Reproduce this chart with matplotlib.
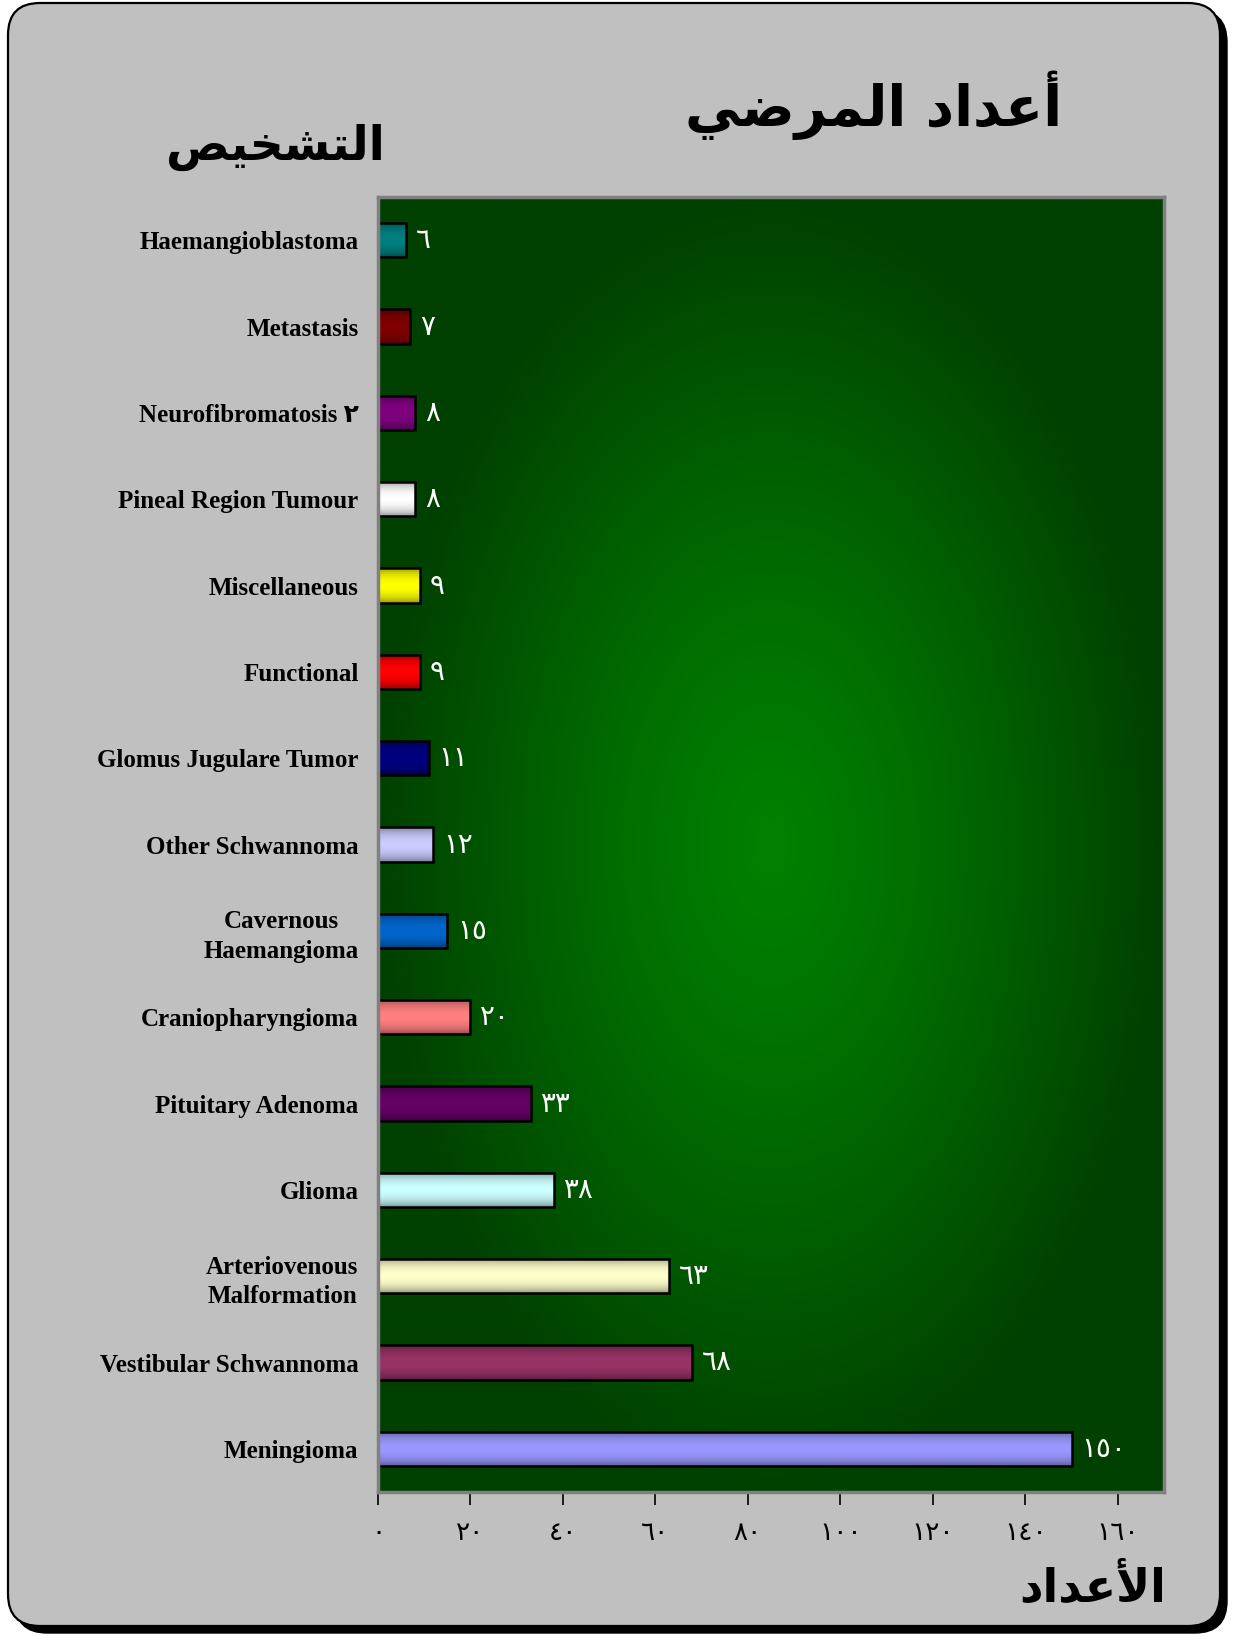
import numpy as np
import matplotlib
matplotlib.use("Agg")
import matplotlib.pyplot as plt
from matplotlib.patches import FancyBboxPatch
from matplotlib.colors import to_rgb

# ---------------- data ----------------
categories = ["Meningioma", "Vestibular Schwannoma", "Arteriovenous\nMalformation",
              "Glioma", "Pituitary Adenoma", "Craniopharyngioma",
              "Cavernous\nHaemangioma", "Other Schwannoma", "Glomus Jugulare Tumor",
              "Functional", "Miscellaneous", "Pineal Region Tumour",
              "Neurofibromatosis \u0662", "Metastasis", "Haemangioblastoma"]
values = [150, 68, 63, 38, 33, 20, 15, 12, 11, 9, 9, 8, 8, 7, 6]
bar_colors = ["#9999FF", "#993366", "#FFFFCC", "#CCFFFF", "#660066", "#FF8080",
              "#0066CC", "#CCCCFF", "#000080", "#FF0000", "#FFFF00", "#FFFFFF",
              "#800080", "#800000", "#008080"]
x_ticks = [0, 20, 40, 60, 80, 100, 120, 140, 160]

# Arabic texts (visual order, presentation forms)
title_main = "\uFEF2\uFEBF\uFEAE\uFEE4\uFEDF\uFE8D \uFEA9\uFE8D\uFEAA\uFECB\uFE83"   # أعداد المرضي
title_cat = "\uFEBA\uFEF4\uFEA8\uFEB8\uFE98\uFEDF\uFE8D"                          # التشخيص
title_x = "\uFEA9\uFE8D\uFEAA\uFECB\uFEF7\uFE8D"                                   # الأعداد

AR_DIGITS = "\u0660\u0661\u0662\u0663\u0664\u0665\u0666\u0667\u0668\u0669"
def ar(n):
    return "".join(AR_DIGITS[int(c)] for c in str(n))

W, H = 1234, 1636
fig = plt.figure(figsize=(W / 100, H / 100), dpi=100)
fig.patch.set_facecolor("white")

# ---------------- outer frame ----------------
bg = fig.add_axes([0, 0, 1, 1])
bg.set_xlim(0, W)
bg.set_ylim(H, 0)
bg.axis("off")
fx0, fy0, fx1, fy1 = 8, 3, 1220, 1626
bg.add_patch(FancyBboxPatch((fx0 + 7, fy0 + 7), fx1 - fx0, fy1 - fy0,
                            boxstyle="round,pad=0,rounding_size=32",
                            facecolor="black", edgecolor="black", lw=1))
bg.add_patch(FancyBboxPatch((fx0, fy0), fx1 - fx0, fy1 - fy0,
                            boxstyle="round,pad=0,rounding_size=32",
                            facecolor="#C0C0C0", edgecolor="black", lw=1.6))

# ---------------- plot area ----------------
L, R, T, B = 378, 1164, 197, 1492
ax = fig.add_axes([L / W, 1 - B / H, (R - L) / W, (B - T) / H])
ax.set_facecolor("#004000")

# radial green gradient
n = 400
gx, gy = np.meshgrid(np.linspace(0, 1, n), np.linspace(0, 1, n))
r = np.sqrt(((gx - 0.5) / 0.5) ** 2 + ((gy - 0.5) / 0.5) ** 2)
r = np.clip(r, 0, 1) ** 1.3
c_center = np.array([0, 128, 0]) / 255
c_edge = np.array([0, 64, 0]) / 255
img = c_center[None, None, :] * (1 - r[..., None]) + c_edge[None, None, :] * r[..., None]
ax.imshow(img, extent=(0, 1, 0, 1), transform=ax.transAxes, aspect="auto",
          zorder=0, interpolation="bilinear")

ypos = np.arange(len(categories))
bh = 0.40
fills = ax.barh(ypos, values, height=bh, color=bar_colors, edgecolor="none", zorder=2)

# vertical gradient on each bar
t = np.linspace(0, 1, 64)
shade = 0.55 + 0.45 * np.sin(np.pi * t) ** 0.6
for patch, col in zip(fills, bar_colors):
    base = np.array(to_rgb(col))
    grad = (base[None, :] * shade[:, None])[:, None, :]
    x0, y0 = patch.get_x(), patch.get_y()
    im = ax.imshow(grad, extent=(x0, x0 + patch.get_width(), y0, y0 + patch.get_height()),
                   aspect="auto", zorder=3, interpolation="bilinear", origin="lower")
    im.set_clip_path(patch)
ax.barh(ypos, values, height=bh, fill=False, edgecolor="black", linewidth=1.8, zorder=4)

# value labels
for y, v in zip(ypos, values):
    ax.annotate(ar(v), (v, y), xytext=(7, 0), textcoords="offset points",
                ha="left", va="center", color="white", fontsize=20,
                family=["DejaVu Sans"], zorder=5)

ax.set_xlim(0, 170)
ax.set_ylim(-0.5, len(categories) - 0.5)

ax.set_xticks(x_ticks)
ax.set_xticklabels([ar(v) for v in x_ticks], fontsize=19, family=["DejaVu Sans"])
ax.set_yticks(ypos)
ax.set_yticklabels(categories, fontsize=18, fontweight="bold",
                   family=["Liberation Serif", "DejaVu Sans"], multialignment="center",
                   linespacing=1.35)
ax.tick_params(axis="y", length=0, pad=14)
ax.tick_params(axis="x", length=9, width=1.2, color="black", pad=11, direction="out")
for s in ax.spines.values():
    s.set_color("#808080")
    s.set_linewidth(2.5)
    s.set_zorder(6)

# ---------------- titles ----------------
fig.text(874 / W, 1 - 126 / H, title_main, ha="center", va="baseline",
         fontsize=40, fontweight="bold", family=["DejaVu Sans"])
fig.text(275 / W, 1 - 160 / H, title_cat, ha="center", va="baseline",
         fontsize=34, fontweight="bold", family=["DejaVu Sans"])
fig.text(1166 / W, 1 - 1602 / H, title_x, ha="right", va="baseline",
         fontsize=33, fontweight="bold", family=["DejaVu Sans"])

fig.savefig("out.png", dpi=100, facecolor="white")
